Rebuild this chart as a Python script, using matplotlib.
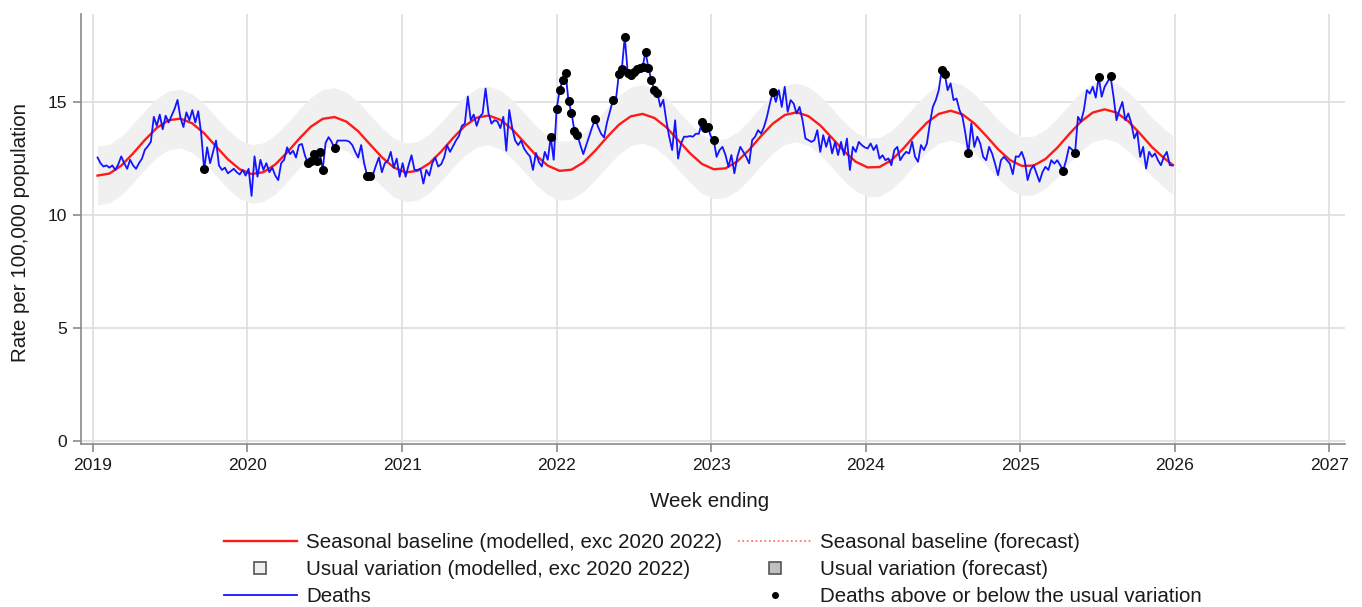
import matplotlib
matplotlib.use("Agg")
import matplotlib.pyplot as plt
from matplotlib.lines import Line2D
import numpy as np
import pandas as pd

plt.rcParams["font.family"] = ["Liberation Sans", "DejaVu Sans"]

# weekly rate per 100,000, week ending from 2019-01-12
first_week = "2019-01-12"
deaths = [
    # 2019
    12.55, 12.3, 12.15, 12.2, 12.1, 12.2, 12.0, 12.25, 12.6, 12.3,
    12.05, 12.45, 12.2, 12.05, 12.3, 12.5, 12.9, 13.05, 13.25, 14.35,
    13.95, 14.45, 13.8, 14.4, 14.1, 14.4, 14.7, 15.1, 14.3, 13.9,
    14.55, 14.2, 14.65, 14.1, 14.6, 13.6, 12.02, 13.0, 12.3, 12.8,
    13.3, 12.2, 12.0, 12.1, 11.85, 11.95, 12.05, 11.9, 11.8, 12.0,
    11.75, 12.05,
    # 2020
    10.85, 12.6, 11.7, 12.45, 12.0, 12.3, 11.9, 12.1, 11.75, 11.55,
    12.3, 12.45, 13.0, 12.7, 12.85, 12.55, 13.1, 13.15, 12.65, 12.3,
    12.4, 12.7, 12.4, 12.8, 12.0, 13.2, 13.45, 13.25, 12.95, 13.3,
    13.3, 13.3, 13.3, 13.25, 13.1, 12.8, 12.55, 13.1, 12.3, 11.75,
    11.75, 11.8, 12.2, 12.55, 11.9, 12.3, 12.4, 12.8, 12.1, 12.5,
    11.7, 12.3,
    # 2021
    11.7, 12.2, 12.65, 12.0, 12.0, 12.05, 11.4, 12.0, 11.75, 12.3,
    12.55, 12.15, 12.25, 12.55, 13.1, 12.8, 13.05, 13.3, 13.5, 13.95,
    14.05, 15.25, 14.2, 14.45, 13.95, 14.35, 14.5, 15.6, 14.5, 14.05,
    14.2, 14.15, 13.85, 14.35, 12.85, 14.65, 13.85, 13.3, 13.1, 13.3,
    12.95, 12.75, 12.6, 12.0, 12.75, 12.35, 12.15, 12.8, 12.45, 13.45,
    12.45, 14.7,
    # 2022
    15.53, 15.97, 16.3, 15.04, 14.54, 13.72, 13.54, 13.1, 12.7, 13.1,
    13.5, 13.9, 14.25, 13.9, 13.6, 13.44, 14.1, 14.6, 15.09, 15.1,
    16.24, 16.46, 17.89, 16.3, 16.2, 16.35, 16.45, 16.5, 16.55, 17.23,
    16.5, 15.97, 15.53, 15.41, 14.8, 15.1, 14.2, 13.47, 12.88, 14.2,
    12.5, 13.17, 13.47, 13.47, 13.5, 13.47, 13.6, 13.6, 14.1, 13.85,
    13.9, 13.5,
    # 2023
    13.33, 12.58, 12.88, 13.02, 12.66, 12.14, 12.66, 11.85, 12.58, 13.02,
    12.8, 12.58, 12.29, 13.32, 13.47, 13.76, 13.61, 13.9, 14.35, 14.94,
    15.46, 15.01, 15.53, 14.79, 15.68, 14.57, 15.09, 14.94, 14.5, 14.79,
    14.2, 13.39, 13.32, 13.24, 13.32, 13.76, 12.8, 13.54, 13.02, 13.47,
    12.73, 13.24, 12.66, 13.24, 12.66, 13.39, 12.0, 13.02, 12.8, 13.24,
    13.1, 13.0,
    # 2024
    12.95, 13.17, 12.88, 13.1, 12.5, 12.65, 12.43, 12.51, 12.21, 12.88,
    13.02, 12.43, 12.65, 12.8, 12.73, 13.25, 12.58, 12.36, 13.1, 12.88,
    13.17, 14.06, 14.79, 15.09, 15.53, 16.42, 16.25, 15.53, 15.83, 15.09,
    15.16, 14.65, 14.35, 13.61, 12.73, 14.06, 13.02, 13.47, 13.17, 12.58,
    12.43, 13.02, 12.73, 12.28, 11.77, 12.43, 12.58, 12.43, 12.28, 11.81,
    12.6, 12.58,
    # 2025
    12.8, 12.43, 11.55, 12.0, 12.21, 11.85, 11.48, 11.9, 12.14, 12.0,
    12.43, 12.28, 12.43, 12.21, 11.97, 12.43, 13.02, 12.9, 12.73, 14.35,
    14.13, 14.65, 15.53, 15.38, 15.68, 15.2, 16.11, 15.24, 15.68, 15.9,
    16.15, 15.24, 14.2, 14.65, 15.01, 14.2, 14.5, 14.06, 13.4, 13.69,
    12.58, 13.02, 12.06, 12.8, 12.58, 12.73, 12.43, 12.21, 12.58, 12.8,
    12.21, 12.2,
]

# weeks flagged as above or below the usual variation (index into deaths)
flagged_weeks = [36, 71, 72, 73, 74, 75, 76, 80, 91, 92,
                 153, 155, 156, 157, 158, 159, 160, 161, 162, 168, 174,
                 176, 177, 178, 179, 180, 181, 182, 183, 184, 185, 186, 187, 188, 189,
                 204, 205, 206, 208, 228, 285, 286, 294, 326, 330, 338, 342]

# seasonal baseline, read every 4th week plus the last week
baseline = [
    11.75, 11.84, 12.19, 12.73, 13.33, 13.86, 14.20, 14.27, 14.06, 13.62,
    13.04, 12.47, 12.03, 11.82, 11.90, 12.24, 12.77, 13.37, 13.91, 14.26,
    14.34, 14.14, 13.71, 13.13, 12.56, 12.11, 11.89, 11.96, 12.29, 12.81,
    13.41, 13.95, 14.31, 14.41, 14.22, 13.80, 13.23, 12.65, 12.19, 11.96,
    12.01, 12.33, 12.85, 13.45, 14.00, 14.37, 14.48, 14.30, 13.89, 13.32,
    12.74, 12.27, 12.03, 12.07, 12.38, 12.89, 13.50, 14.05, 14.43, 14.55,
    14.38, 13.97, 13.41, 12.83, 12.36, 12.11, 12.13, 12.43, 12.94, 13.54,
    14.09, 14.48, 14.62, 14.46, 14.06, 13.51, 12.92, 12.44, 12.18, 12.19,
    12.48, 12.98, 13.58, 14.14, 14.54, 14.68, 14.54, 14.15, 13.60, 13.01,
    12.53, 12.22,
]
band_half_width = 1.3

years = list(range(2019, 2028))
y_ticks = [0, 5, 10, 15]

weeks = pd.date_range(first_week, periods=len(deaths), freq="7D")
base_weeks = weeks[list(range(0, len(deaths), 4)) + [len(deaths) - 1]]
deaths = np.array(deaths)
baseline = np.array(baseline)

fig = plt.figure(figsize=(13.62, 6.07), dpi=100)
ax = fig.add_axes([0.0595, 0.2685, 0.928, 0.7084])

ax.fill_between(base_weeks, baseline - band_half_width, baseline + band_half_width,
                color="#f0f0f0", lw=0, zorder=1)
ax.plot(base_weeks, baseline, color="#ff1a1a", lw=1.7, zorder=2)
ax.plot(weeks, deaths, color="#1414ff", lw=1.3, zorder=3)
ax.plot(weeks[flagged_weeks], deaths[flagged_weeks], "o", color="black",
        ms=5.5, zorder=4)

ax.set_xlim(pd.Timestamp("2018-12-04"), pd.Timestamp("2027-02-07"))
ax.set_ylim(-0.13, 18.9)
ax.set_xticks([pd.Timestamp(f"{y}-01-01") for y in years])
ax.set_xticklabels([str(y) for y in years])
ax.set_yticks(y_ticks)

ax.grid(color="#dedede", lw=1.2)
ax.set_axisbelow(True)
for side in ["top", "right"]:
    ax.spines[side].set_visible(False)
for side in ["left", "bottom"]:
    ax.spines[side].set_color("#8a8a8a")
    ax.spines[side].set_linewidth(1.2)
ax.tick_params(length=6, width=1.2, color="#8a8a8a", labelsize=12.6,
               labelcolor="#1a1a1a", pad=4)

ax.set_ylabel("Rate per 100,000 population", fontsize=14.8, color="#1a1a1a")
ax.yaxis.set_label_coords(-0.04, 0.493)
ax.set_xlabel("Week ending", fontsize=14.8, color="#1a1a1a")
ax.xaxis.set_label_coords(0.4976, -0.112)

handles = [
    Line2D([], [], color="#ff1a1a", lw=1.7),
    Line2D([], [], ls="none", marker="s", ms=8, mfc="#f0f0f0", mec="#555555", mew=1.2),
    Line2D([], [], color="#1414ff", lw=1.3),
    Line2D([], [], color="#ff6060", lw=1.2, ls=":"),
    Line2D([], [], ls="none", marker="s", ms=8, mfc="#c0c0c0", mec="#555555", mew=1.2),
    Line2D([], [], ls="none", marker="o", ms=4, color="black"),
]
labels = [
    "Seasonal baseline (modelled, exc 2020 2022)",
    "Usual variation (modelled, exc 2020 2022)",
    "Deaths",
    "Seasonal baseline (forecast)",
    "Usual variation (forecast)",
    "Deaths above or below the usual variation",
]
fig.legend(handles, labels, ncol=2, loc="upper left",
           bbox_to_anchor=(224 / 1362, 1 - 533 / 607), frameon=False,
           fontsize=14.8, handlelength=3.55, handletextpad=0.44,
           columnspacing=0.8, labelspacing=0.4, borderpad=0, borderaxespad=0,
           labelcolor="#1a1a1a")

fig.savefig("out.png", dpi=100)
